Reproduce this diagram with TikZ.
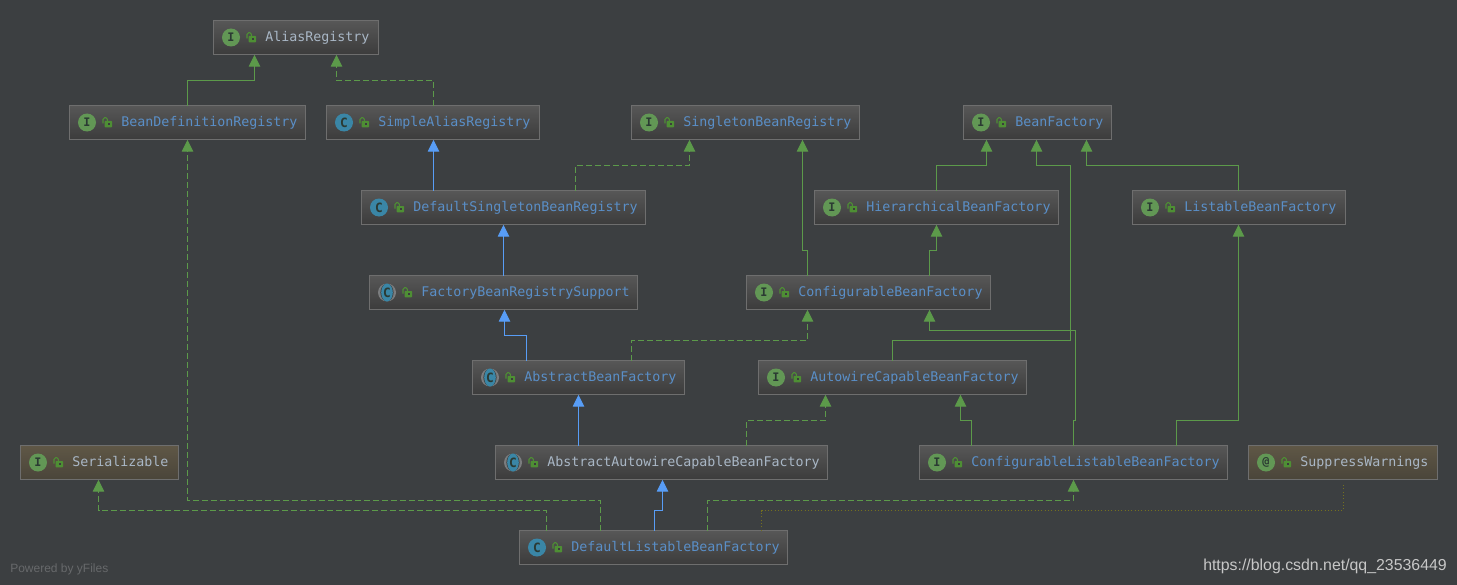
\documentclass[tikz,border=0pt]{standalone}
\usepackage{fontspec}
\setmainfont{Liberation Sans}
\setmonofont{DejaVu Sans Mono}
\newfontfamily\iconfont{DejaVu Sans Mono}
\usetikzlibrary{arrows.meta}
\definecolor{bgc}{HTML}{3C3F41}
\definecolor{boxtop}{HTML}{575757}
\definecolor{boxbot}{HTML}{3C3C3C}
\definecolor{annotop}{HTML}{5F5746}
\definecolor{annobot}{HTML}{4A453A}
\definecolor{boxline}{HTML}{6E6E6E}
\definecolor{linkgreen}{HTML}{5C9A4A}
\definecolor{linkblue}{HTML}{589DF6}
\definecolor{dotcol}{HTML}{74701F}
\definecolor{txtblue}{HTML}{5A8FC8}
\definecolor{txtgrey}{HTML}{A9B7C6}
\definecolor{icongreen}{HTML}{629755}
\definecolor{iconteal}{HTML}{3A86A6}
\definecolor{icongrey}{HTML}{7B7D7F}
\definecolor{icondark}{HTML}{2B3A33}
\definecolor{lockgreen}{HTML}{4E8F34}
\tikzset{
  classbox/.style={draw=boxline,line width=0.85pt,top color=boxtop,bottom color=boxbot,inner sep=0pt,outer sep=0pt},
  annobox/.style={draw=boxline,line width=0.85pt,top color=annotop,bottom color=annobot,inner sep=0pt,outer sep=0pt},
  nametext/.style={anchor=base west,inner sep=0pt,font=\ttfamily\fontsize{9.98}{12}\selectfont},
  icontext/.style={inner sep=0pt,text=icondark,font=\iconfont\bfseries\fontsize{8.8}{10}\selectfont},
  iconctext/.style={inner sep=0pt,text=icondark,font=\iconfont\bfseries\fontsize{9.6}{10}\selectfont},
  tiphead/.style={-{Triangle[length=9pt,width=8.6pt]},line width=0.75pt,shorten >=0.4pt},
  extg/.style={tiphead,draw=linkgreen,color=linkgreen},
  extb/.style={tiphead,draw=linkblue,color=linkblue},
  impg/.style={extg,dash pattern=on 4.5pt off 2.25pt},
  dotg/.style={draw=dotcol,line width=0.75pt,dash pattern=on 0.75pt off 1.75pt,shorten >=3.2pt}
}
\newcommand{\lockglyph}[2]{%
  \fill[lockgreen,rounded corners=0.6pt] (#1+35.5,#2+16) rectangle (#1+43.2,#2+22.3);
  \fill[boxbot] (#1+38.6,#2+18) rectangle (#1+40.6,#2+20);
  \draw[lockgreen,line width=0.8pt,rounded corners=1.2pt] (#1+34,#2+18.5) -- (#1+34,#2+12.7) -- (#1+38.4,#2+12.7) -- (#1+38.4,#2+16);
}
\newcommand{\umlbox}[8]{%
  \node[#6,minimum width={(#4-#2-0.6)*0.75pt},minimum height={(#5-#3-0.4)*0.75pt}] (#1) at ({(#2+#4)/2+0.4},{(#3+#5)/2+0.4}) {};
  \node[nametext,text=#7] (#1-name) at (#2+52,#3+21.6) {#8};
  \lockglyph{#2}{#3}
}
\newcommand{\iconI}[3]{\fill[icongreen] (#2+18,#3+17.5) circle[radius=9];\node[icontext] (#1-icon) at (#2+18,#3+17.5) {I};}
\newcommand{\iconAt}[3]{\fill[icongreen] (#2+18,#3+17.5) circle[radius=9];\node[icontext] (#1-icon) at (#2+18,#3+17.5) {@};}
\newcommand{\iconC}[3]{\fill[iconteal] (#2+18,#3+17.5) circle[radius=9];\node[iconctext] (#1-icon) at (#2+18,#3+17.5) {C};}
\newcommand{\iconAC}[3]{%
  \fill[icongrey] (#2+18,#3+17.5) circle[radius=9];
  \fill[boxbot] (#2+18,#3+17.5) ellipse[x radius=6.6,y radius=9];
  \fill[iconteal] (#2+18,#3+17.5) ellipse[x radius=5.8,y radius=9];
  \node[iconctext] (#1-icon) at (#2+18,#3+17.5) {C};}
\newcommand{\bent}[6]{\draw[#1] (#2.north -| #3,0) -- (#3,#4) -- (#6,#4) -- (#5.south -| #6,0);}
\newcommand{\straight}[4]{\draw[#1] (#2.north -| #3,0) -- (#4.south -| #3,0);}
\begin{document}
\begin{tikzpicture}[x=0.75pt,y=-0.75pt]
\fill[bgc] (0,0) rectangle (1457,585);
\useasboundingbox (0,0) rectangle (1457,585);

\umlbox{alias}{213}{20}{378}{54}{classbox}{txtgrey}{AliasRegistry}\iconI{alias}{213}{20}
\umlbox{bdr}{69}{105}{305}{139}{classbox}{txtblue}{BeanDefinitionRegistry}\iconI{bdr}{69}{105}
\umlbox{sar}{326}{105}{539}{139}{classbox}{txtblue}{SimpleAliasRegistry}\iconC{sar}{326}{105}
\umlbox{sbr}{631}{105}{859}{139}{classbox}{txtblue}{SingletonBeanRegistry}\iconI{sbr}{631}{105}
\umlbox{bf}{963}{105}{1111}{139}{classbox}{txtblue}{BeanFactory}\iconI{bf}{963}{105}
\umlbox{dsbr}{361}{190}{645}{224}{classbox}{txtblue}{DefaultSingletonBeanRegistry}\iconC{dsbr}{361}{190}
\umlbox{hbf}{814}{190}{1058}{224}{classbox}{txtblue}{HierarchicalBeanFactory}\iconI{hbf}{814}{190}
\umlbox{lbf}{1132}{190}{1345}{224}{classbox}{txtblue}{ListableBeanFactory}\iconI{lbf}{1132}{190}
\umlbox{fbrs}{369}{275}{637}{309}{classbox}{txtblue}{FactoryBeanRegistrySupport}\iconAC{fbrs}{369}{275}
\umlbox{cbf}{746}{275}{990}{309}{classbox}{txtblue}{ConfigurableBeanFactory}\iconI{cbf}{746}{275}
\umlbox{abf}{472}{360}{684}{394}{classbox}{txtblue}{AbstractBeanFactory}\iconAC{abf}{472}{360}
\umlbox{acbf}{758}{360}{1026}{394}{classbox}{txtblue}{AutowireCapableBeanFactory}\iconI{acbf}{758}{360}
\umlbox{ser}{20}{445}{178}{479}{annobox}{txtgrey}{Serializable}\iconI{ser}{20}{445}
\umlbox{aacbf}{495}{445}{827}{479}{classbox}{txtgrey}{AbstractAutowireCapableBeanFactory}\iconAC{aacbf}{495}{445}
\umlbox{clbf}{919}{445}{1227}{479}{classbox}{txtblue}{ConfigurableListableBeanFactory}\iconI{clbf}{919}{445}
\umlbox{sw}{1248}{445}{1437}{479}{annobox}{txtgrey}{SuppressWarnings}\iconAt{sw}{1248}{445}
\umlbox{dlbf}{519}{530}{787}{564}{classbox}{txtblue}{DefaultListableBeanFactory}\iconC{dlbf}{519}{530}

\begin{scope}[shift={(0.5,0.5)}]
\bent{extg}{bdr}{187}{80}{alias}{254}
\bent{impg}{sar}{433}{80}{alias}{336}
\straight{extb}{dsbr}{433}{sar}
\bent{impg}{dsbr}{575}{165}{sbr}{689}
\straight{extb}{fbrs}{503}{dsbr}
\bent{extg}{cbf}{807}{250}{sbr}{802}
\bent{extg}{hbf}{936}{165}{bf}{986}
\bent{extg}{lbf}{1238}{165}{bf}{1086}
\bent{extg}{cbf}{929}{250}{hbf}{936}
\bent{extb}{abf}{526}{335}{fbrs}{504}
\bent{impg}{abf}{631}{340}{cbf}{807}
\straight{extb}{aacbf}{578}{abf}
\bent{impg}{aacbf}{746}{420}{acbf}{825}
\bent{extg}{clbf}{971}{420}{acbf}{960}
\draw[extg] (acbf.north -| 892,0) -- (892,340) -- (1070,340) -- (1070,165) -- (1036,165) -- (bf.south -| 1036,0);
\draw[extg] (clbf.north -| 1073,0) -- (1073,420) -- (1075,420) -- (1075,330) -- (929,330) -- (cbf.south -| 929,0);
\draw[extg] (clbf.north -| 1176,0) -- (1176,420) -- (1238,420) -- (lbf.south -| 1238,0);
\draw[impg] (dlbf.north -| 546,0) -- (546,510) -- (98,510) -- (ser.south -| 98,0);
\draw[impg] (dlbf.north -| 600,0) -- (600,500) -- (187,500) -- (bdr.south -| 187,0);
\draw[extb] (dlbf.north -| 654,0) -- (654,510) -- (662,510) -- (aacbf.south -| 662,0);
\draw[impg] (dlbf.north -| 707,0) -- (707,500) -- (1073,500) -- (clbf.south -| 1073,0);
\draw[dotg] (dlbf.north -| 761,0) -- (761,510) -- (1343,510) -- (sw.south -| 1343,0);
\end{scope}

\node[anchor=west,inner sep=0pt,text=bgc!78!white,font=\fontsize{9}{10}\selectfont] (powered) at (10,569) {Powered by yFiles};
\node[anchor=east,inner sep=0pt,text=white!78!black,font=\fontsize{11.9}{14}\selectfont] (wm) at (1447,566.5) {https://blog.csdn.net/qq\_23536449};
\end{tikzpicture}
\end{document}
